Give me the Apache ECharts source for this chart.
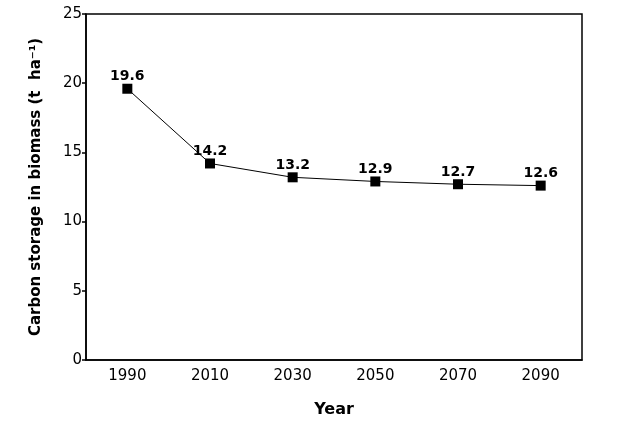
<!DOCTYPE html>
<html>
<head>
<meta charset="utf-8">
<script src="https://cdn.jsdelivr.net/npm/echarts@6/dist/echarts.min.js"></script>
<style>
  html, body { margin: 0; padding: 0; background: #fff; }
  #chart { width: 633px; height: 427px; }
</style>
</head>
<body>
<div id="chart"></div>
<script>
var years = ['1990', '2010', '2030', '2050', '2070', '2090'];
var carbon = [19.6, 14.2, 13.2, 12.9, 12.7, 12.6];
var yTicks = [0, 5, 10, 15, 20, 25];

var chart = echarts.init(document.getElementById('chart'));

var option = {
  backgroundColor: '#fff',
  animation: false,
  textStyle: { fontFamily: 'DejaVu Sans', color: '#000' },
  grid: {
    left: 86, top: 14, right: 51, bottom: 67,
    show: true, borderColor: '#000', borderWidth: 1.5
  },
  xAxis: {
    type: 'category',
    data: years,
    boundaryGap: true,
    name: 'Year',
    nameLocation: 'middle',
    nameGap: 42,
    nameTextStyle: { fontSize: 16, fontWeight: 'bold', color: '#000' },
    axisLine: { lineStyle: { color: '#000', width: 1.5 } },
    axisTick: { alignWithLabel: true, length: 5, lineStyle: { color: '#000', width: 1.5 } },
    axisLabel: { fontSize: 15, color: '#000', margin: 9 },
    splitLine: { show: false }
  },
  yAxis: {
    type: 'value',
    min: yTicks[0],
    max: yTicks[yTicks.length - 1],
    interval: 5,
    name: 'Carbon storage in biomass (t  ha⁻¹)',
    nameLocation: 'middle',
    nameGap: 42,
    nameTextStyle: { fontSize: 15, fontWeight: 'bold', color: '#000' },
    axisLine: { show: true, lineStyle: { color: '#000', width: 1.5 } },
    axisTick: { show: true, length: 4, lineStyle: { color: '#000', width: 1.5 } },
    axisLabel: { fontSize: 15, color: '#000', margin: 4 },
    splitLine: { show: false }
  },
  series: [{
    type: 'line',
    data: carbon,
    symbol: 'rect',
    symbolSize: 10,
    itemStyle: { color: '#000' },
    lineStyle: { color: '#000', width: 1 },
    label: {
      show: true,
      position: 'top',
      distance: 0,
      fontSize: 14,
      fontWeight: 'bold',
      color: '#000'
    }
  }]
};

chart.setOption(option);
</script>
</body>
</html>
